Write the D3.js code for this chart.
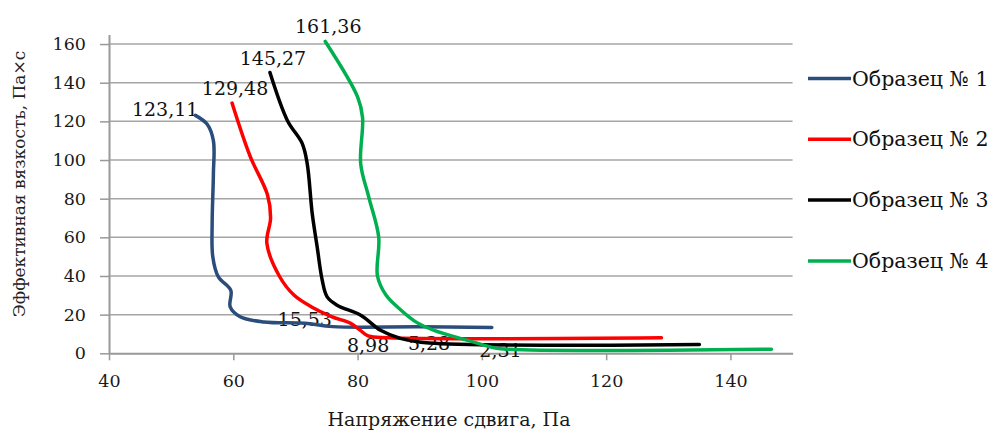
<!DOCTYPE html>
<html>
<head>
<meta charset="utf-8">
<script src="https://cdn.jsdelivr.net/npm/d3@7"></script>
<style>
  body { margin: 0; background: #fff; }
  svg { display: block; }
  .tick text { font-family: "DejaVu Serif", serif; font-size: 17.5px; fill: #1a1a1a; }
  .lbl { font-family: "DejaVu Serif", serif; font-size: 19px; fill: #111; }
  .legend { font-family: "DejaVu Serif", serif; font-size: 20.5px; fill: #111; }
  .title { font-family: "DejaVu Serif", serif; font-size: 19px; fill: #1a1a1a; }
  .ytitle { font-family: "DejaVu Serif", serif; font-size: 17px; fill: #222; }
</style>
</head>
<body>
<script>
// data: shear stress (Pa) and effective viscosity (Pa*s)
var seriesNames = ["Образец № 1", "Образец № 2", "Образец № 3", "Образец № 4"];

var stress1 = [53.9, 55.8, 56.8, 56.8, 56.6, 56.7, 57.6, 59.6, 59.5, 61.1, 64.9, 71.5, 76, 90, 101.6];
var visc1   = [123.11, 118.5, 110, 93, 67.5, 50, 39.5, 32.6, 24, 18.9, 16.2, 15.53, 13.8, 13.7, 13.4];

var stress2 = [59.8, 62.7, 65.5, 66, 65.4, 67.4, 69.8, 72.6, 75.8, 78.9, 80.4, 81.7, 85, 128.9];
var visc2   = [129.48, 102, 82, 70, 57, 40, 30, 24, 19, 15.5, 12, 8.98, 8.0, 8.0];

var stress3 = [65.9, 68.7, 71.1, 71.9, 72.7, 73.5, 74.3, 75.1, 76.7, 80.5, 83.7, 86.9, 91.5, 135];
var visc3   = [145.27, 120.5, 108.5, 98, 72.3, 55, 38, 29.2, 24.9, 19.7, 11.9, 7.7, 5.28, 4.6];

var stress4 = [74.8, 80, 80.8, 80.5, 81.8, 83.4, 83.2, 84.6, 87, 89.5, 92.3, 97.7, 101, 103, 146.6];
var visc4   = [161.36, 132.7, 122, 98, 80.8, 60.1, 40, 30, 22.3, 16, 11.9, 6.7, 3.6, 2.31, 2.1];

// values written next to the curves (top and bottom of each)
var labelValues = [[123.11, 15.53], [129.48, 8.98], [145.27, 5.28], [161.36, 2.31]];

var xTicks = [40, 60, 80, 100, 120, 140];
var yTicks = [0, 20, 40, 60, 80, 100, 120, 140, 160];

var colors = ["#2b4d7c", "#ff0000", "#000000", "#00b050"];

var series = [
  d3.zip(stress1, visc1),
  d3.zip(stress2, visc2),
  d3.zip(stress3, visc3),
  d3.zip(stress4, visc4)
];

var svg = d3.select("body").append("svg")
    .attr("width", 993)
    .attr("height", 431);

var x = d3.scaleLinear().domain([40, 150]).range([109, 792.6]);
var y = d3.scaleLinear().domain([0, 165]).range([353.3, 34.4]);

// gridlines
svg.append("g")
    .selectAll("line")
    .data(yTicks.slice(1))
    .enter().append("line")
    .attr("x1", x(40))
    .attr("x2", x(150))
    .attr("y1", function(d) { return y(d); })
    .attr("y2", function(d) { return y(d); })
    .attr("stroke", "#a6a6a6")
    .attr("stroke-width", 1.5);

// axes
var xAxis = svg.append("g")
    .attr("transform", "translate(0," + y(0) + ")")
    .call(d3.axisBottom(x).tickValues(xTicks).tickSize(7).tickSizeOuter(0).tickPadding(15));

var yAxis = svg.append("g")
    .attr("transform", "translate(" + x(40) + ",0)")
    .call(d3.axisLeft(y).tickValues(yTicks).tickSize(9).tickSizeOuter(0).tickPadding(14));

[xAxis, yAxis].forEach(function(a) {
  a.select(".domain").attr("stroke", "#999").attr("stroke-width", 2);
  a.selectAll(".tick line").attr("stroke", "#999").attr("stroke-width", 1.5);
});
xAxis.selectAll(".tick text").attr("dy", "0.66em");

// data labels (drawn under the lines, as in the original)
var labels = svg.append("g");
labelValues.forEach(function(vals, i) {
  vals.forEach(function(v, j) {
    var p = series[i].find(function(d) { return d[1] === v; });
    var t = labels.append("text")
        .attr("class", "lbl")
        .text(String(v).replace(".", ","))
        .attr("x", x(p[0]))
        .attr("y", y(p[1]));
    if (j === 0) {
      if (i === 0) {
        t.attr("text-anchor", "end").attr("dx", 3).attr("dy", 1);
      } else {
        t.attr("text-anchor", "middle").attr("dx", 3).attr("dy", -8);
      }
    } else {
      var dys = [3, 16, 7, 8];
      t.attr("text-anchor", "middle").attr("dy", dys[i]);
    }
  });
});

// curves
var line = d3.line()
    .x(function(d) { return x(d[0]); })
    .y(function(d) { return y(d[1]); })
    .curve(d3.curveCatmullRom.alpha(0.5));

svg.append("g")
    .selectAll("path")
    .data(series)
    .enter().append("path")
    .attr("d", line)
    .attr("fill", "none")
    .attr("stroke", function(d, i) { return colors[i]; })
    .attr("stroke-width", 3.5)
    .attr("stroke-linejoin", "round")
    .attr("stroke-linecap", "round");

// legend
var legend = svg.append("g")
    .selectAll(".legenditem")
    .data(seriesNames)
    .enter().append("g")
    .attr("class", "legenditem")
    .attr("transform", function(d, i) { return "translate(808," + (78.5 + i * 60.8) + ")"; });

legend.append("line")
    .attr("x1", 0)
    .attr("x2", 43)
    .attr("stroke", function(d, i) { return colors[i]; })
    .attr("stroke-width", 3.5);

legend.append("text")
    .attr("class", "legend")
    .attr("x", 44)
    .attr("dy", "0.35em")
    .text(function(d) { return d; });

// axis titles
svg.append("text")
    .attr("class", "title")
    .attr("x", 449)
    .attr("y", 426)
    .attr("text-anchor", "middle")
    .text("Напряжение сдвига, Па");

svg.append("text")
    .attr("class", "ytitle")
    .attr("transform", "translate(25,184) rotate(-90)")
    .attr("text-anchor", "middle")
    .text("Эффективная вязкость, Па×с");
</script>
</body>
</html>
